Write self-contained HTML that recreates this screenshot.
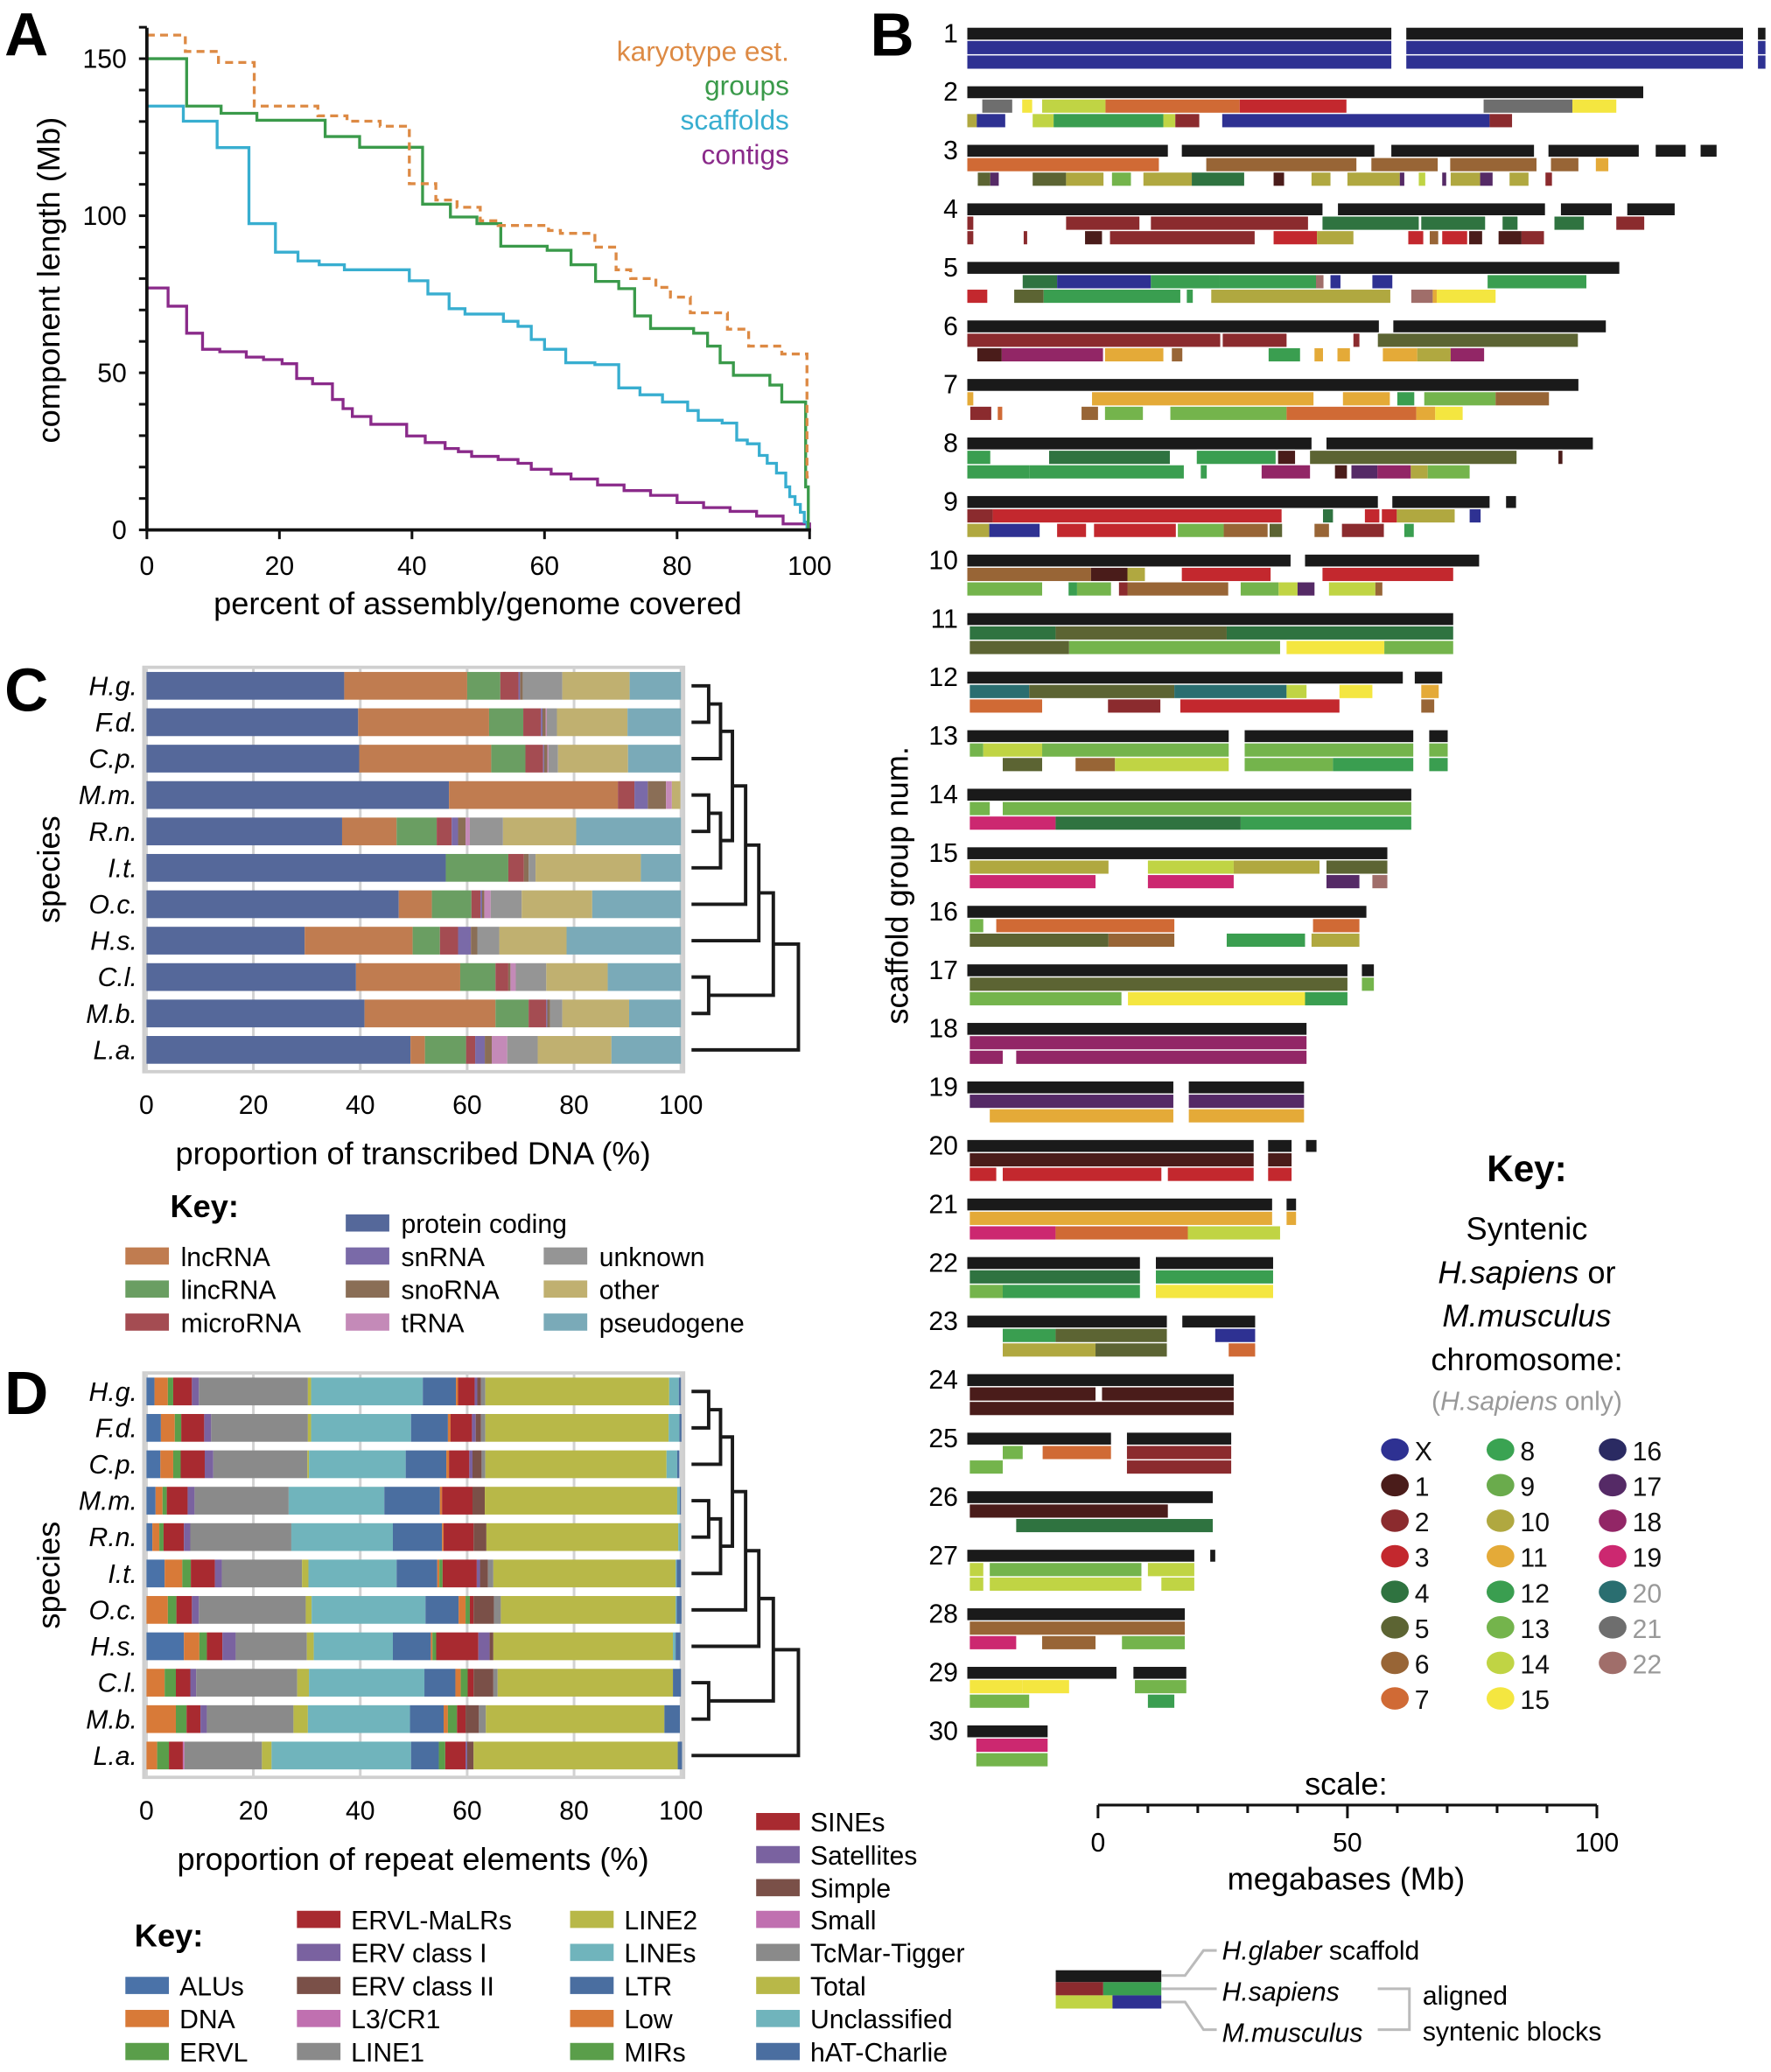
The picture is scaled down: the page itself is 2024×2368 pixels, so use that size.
<!DOCTYPE html>
<html><head><meta charset="utf-8">
<style>
html,body{margin:0;padding:0;background:#fff;}
svg{display:block;font-family:"Liberation Sans",Arial,sans-serif;}
</style></head>
<body>
<svg id="fig" width="2024" height="2368" viewBox="0 0 1342 1568" preserveAspectRatio="none" xmlns="http://www.w3.org/2000/svg">
<g id="gA"></g>
<g id="gB"></g>
<g id="gC"></g>
<g id="gD"></g>
</svg>
<script>
// ===== Panel A data =====
const aKaryX=[0,5.8,10.8,16.2,25.8,30.2,35.2,39.6,43.6,46.8,50.3,53,60.6,62.4,67.6,70.8,73,76.8,79,82,87.6,90.8,95.8,99.6,100];
const aKaryY=[157.5,152.3,148.8,134.9,131.8,130.1,128.5,110.2,105,102.7,98.4,96.9,95.3,94.4,90,82.8,80,77.2,74.1,69.1,63.9,58.5,56,16.8,16.8];
const aGrpX=[0,6,11.2,16.6,26.9,32.1,41.6,45.8,49.8,53.4,60.4,64,67.7,71.2,73.6,76,82.5,84.6,86.5,88.5,94,95.8,99.4,99.8,100];
const aGrpY=[150,134.9,132.6,130.4,125.2,121.8,103.7,99.6,97.5,90.3,89,84.4,79.1,76.8,68.1,64.1,62.6,58.5,53.2,49.2,46.1,40.7,13.7,0,0];
const aScfX=[0,5.5,10.6,15.4,19.4,22.8,26,29.8,39.6,42.4,45.6,48,53.8,56,58,60,63.2,67.6,71.2,74.4,77.8,81.6,83.2,86.8,89,90.6,92.4,93.6,95,96.4,97,97.8,98.6,99.2,99.6,100];
const aScfY=[134.9,130.1,121.7,97.5,88.4,85.6,84.4,82.8,79.3,75.1,70.4,68.7,66.4,64.8,60.6,57.5,53.2,52.6,45.2,43,40.7,38,34.9,34,28.6,27.4,23.7,21.2,18.1,13.7,10.6,8.1,5.6,2.5,0,0];
const aCtgX=[0,3.2,6,8.4,11,15,17.6,20.4,22.6,25,28,29.6,31,33.8,39.2,42,45,47,49,53,56,58,61,64,68,72,76,80,84,88,92,96,100];
const aCtgY=[77,71.2,62.6,57.5,56.7,55,54.2,52.9,48.2,46.5,41.5,38.6,36.1,33.6,29.9,27.8,25.9,24.9,23.4,22.4,21.2,19.3,17.8,16.2,14.3,12.5,11,8.7,7.1,5.9,4.4,1.9,0];
const aXTicks=[0,20,40,60,80,100];
const aYTicks=[0,50,100,150];

// ===== Panel C data =====
const species=["H.g.","F.d.","C.p.","M.m.","R.n.","I.t.","O.c.","H.s.","C.l.","M.b.","L.a."];
const cCats=["protein coding","lncRNA","lincRNA","microRNA","snRNA","snoRNA","tRNA","unknown","other","pseudogene"];
const cColors=["#55689a","#c07c50","#6a9e62","#a44c52","#7a6aa8","#8a6e56","#c48ab8","#959595","#c0b070","#7aaab8"];
const cVals=[
[37.0,23.0,6.2,3.4,0.3,0.5,0,7.4,12.6,9.6],
[39.6,24.5,6.4,3.3,0.3,0.6,0.2,1.9,13.2,10.0],
[39.8,24.7,6.4,3.3,0.2,0.6,0.2,1.8,13.1,9.9],
[56.6,31.6,0,3.1,2.5,3.4,1.1,0,1.6,0],
[36.6,10.2,7.5,2.8,1.2,1.4,0.8,6.2,13.7,19.6],
[56.0,0,11.7,2.9,0,0.9,0,1.3,19.7,7.5],
[47.2,6.2,7.4,1.7,0.3,0.4,1.2,5.8,13.2,16.6],
[29.6,20.2,5.1,3.4,2.4,1.2,0,4.1,12.6,21.4],
[39.2,19.5,6.6,2.4,0,0.4,1.0,5.7,11.5,13.7],
[40.8,24.5,6.2,3.3,0.2,0.5,0,2.3,12.5,9.7],
[49.4,2.7,7.7,1.7,1.8,1.3,2.9,5.7,13.8,13.0]];
const axTicks=[0,20,40,60,80,100];

// ===== Panel D data =====
const dCats=["ALUs","DNA","ERVL","ERVL-MaLRs","ERV class I","ERV class II","L3/CR1","LINE1","LINE2","LINEs","LTR","Low","MIRs","SINEs","Satellites","Simple","Small","TcMar-Tigger","Total","Unclassified","hAT-Charlie"];
const dColors=["#4a72a8","#d87a38","#5a9e4a","#a82a30","#7a62a0","#7a5048","#c070b0","#8a8a8a","#b8b848","#70b4bc","#4a6ea0","#d87a38","#5a9e4a","#a82a30","#7a62a0","#7a5048","#c070b0","#8a8a8a","#b8b848","#70b4bc","#4a6ea0"];
const dVals=[
[1.5,2.5,1,3.5,1.3,0,0,20.4,0.6,20.9,6.2,0.4,0,3.1,0.5,0.7,0,0.8,34.4,1.8,0.4],
[2.7,2.6,1.2,4.3,1.3,0,0,18.1,0.6,18.7,6.9,0.5,0,4,0.7,1,0,0.8,34.3,2,0.4],
[2.6,2.4,1.4,4.5,1.6,0,0,17.6,0.3,18.1,7.6,0.5,0,3.8,0.6,1.7,0,0.7,33.9,2,0.4],
[1.7,1.3,0.8,3.9,1.3,0,0,17.6,0,17.9,10.4,0.4,0,5.7,0,2.3,0,0,36,0.5,0.2],
[1.1,1.3,0.8,3.8,1.2,0,0,18.9,0,19,9.2,0.3,0,5.6,0,2.4,0,0,35.9,0.4,0.1],
[3.4,3.3,1.6,4.5,1.3,0,0,15,1.2,16.5,7.6,0.4,0.6,6.4,0.6,1.5,0,1,34.1,0.2,0.8],
[0,4,1.6,2.9,1.3,0,0,20,1.1,21.3,6.2,1.3,0.8,0.7,0,3.8,0,1.3,32.7,0.2,0.9],
[7,2.9,1.4,2.9,2.5,0,0,13.3,1.3,14.8,7.1,0.3,0.7,7.9,2.1,0.7,0,0,33.6,0.5,0.9],
[0,3.4,2.1,2.7,1.1,0,0,18.9,2.2,21.6,5.8,1,1.3,1.1,0,3.7,0,0.8,32.8,0,1.5],
[0,5.5,2,2.6,1.2,0,0,16.2,2.7,19.1,6.3,0.8,1.7,1.6,0,2.5,0,1.3,33.4,0,2.9],
[0,2,2.2,2.6,0,0,0.3,14.5,1.8,26.1,5.2,0,1.2,3.8,0.3,1.2,0,0,38.2,0,0.8]];

// ===== Panel B data =====
const chromKeys=["X","1","2","3","4","5","6","7","8","9","10","11","12","13","14","15","16","17","18","19","20","21","22"];
const chromColors=["#2e3192","#4a1c1a","#8b2b2e","#c3282e","#2f7340","#5c6433","#986536","#d06a35","#3aa352","#6aab4c","#b0a840","#e4aa38","#3a9e50","#74b44c","#c0d444","#f4e640","#2a2a62","#552a66","#922666","#cc2870","#2a6e70","#6e6e6e","#a06e6a"];
const scaffoldNums=[1,2,3,4,5,6,7,8,9,10,11,12,13,14,15,16,17,18,19,20,21,22,23,24,25,26,27,28,29,30];
const scaffolds=[
"0-85 88-155.5 158.5-160","0-135.5","0-40.2 43-81.6 85-113.6 116.5-134.6 138-144 147-150.2","0-71.2 74.3-115.8 119-129.2 132.3-141.8","0-130.7","0-82.5 85.4-128","0-122.5","0-69 72-125.4","0-82.3 85.2-104.7 108-110","0-64.8 67.7-102.6",
"0-97.4","0-87.3 89.7-95.2","0-52.4 55.6-89.4 92.6-96.3","0-89","0-84.2","0-80","0-76.2 79.1-81.5","0-68","0-41.3 44.4-67.5","0-57.4 60.3-65 67.9-70",
"0-61.1 64-65.9","0-34.6 37.8-61.3","0-40 43.1-57.7","0-53.4","0-28.8 32-52.9","0-49.2","0-45.5 48.7-49.7","0-43.6","0-29.9 33.3-43.9","0-16.1"];
const laneHs=[
"X:0-85 X:88-155.5 X:158.5-160","21:3-9 15:11-13 14:15-27.7 7:27.7-54.6 3:54.6-76 21:103.5-121.3 15:121.3-130.1","7:0-38.4 6:47.9-78 6:81-94.3 6:96.8-114.1 6:117-122.5 11:126-128.5","2:0-1.2 2:19.8-34.5 2:36.8-68.3 4:71.2-90.5 4:91-103.8 4:107.3-110.3 4:117.7-123.6 2:130.1-135.7","4:11.1-18 X:18-36.8 12:36.8-50.6 12:50.6-69.9 22:69.9-71.4 X:72.8-74.8 X:81.2-85.2 12:104.3-124.1","2:0-50.7 2:51.2-64 2:77.4-78.6 5:82.3-122.4","11:0-1.2 11:25-69.4 11:75.3-84.7 12:86.2-89.6 13:91.6-105.9 6:105.9-116.6","12:0-4.6 4:16.4-40.6 12:46-61.8 1:62.3-65.7 5:68.7-110.1 1:118.5-119.3","2:0-5.1 3:5.1-63 4:71.3-73.3 3:79.7-82.6 3:83.1-86.1 10:86.1-97.7 X:100.7-102.9","6:0-24.8 1:24.8-32.1 10:32.1-35.6 3:43-60.8 3:71.2-97.4",
"4:0.5-17.7 5:17.7-52 4:52-97.4","20:0.5-12.4 5:12.4-41.5 20:41.5-64 14:64-68 15:74.6-81.2 11:91-94.5","13:0.5-3.2 14:3.2-15 13:15-52.4 13:55.6-89.4 13:92.6-96.3","13:0.5-4.5 13:7.1-89","10:0.5-28.3 14:36.2-53.4 10:53.4-70.6 5:72-84.2","13:0.5-3.2 7:5.8-41.5 7:69.3-78.6","5:0.5-76.2 13:79.1-81.5","18:0.5-68","17:0.5-41.3 17:44.4-67.5","1:0.5-57.4 1:60.3-65",
"11:0.5-61.1 11:64-65.9","4:0.5-34.6 12:37.8-61.3","12:7.1-17.7 5:17.7-40 X:49.7-57.7","1:0.5-25.7 1:27-53.4","13:7.1-11.1 7:15.1-28.8 2:32-52.9","1:0.5-40.2","14:0.5-3.2 13:4.5-34.9 14:36.2-45.5","6:0.5-43.6","15:0.5-11.1 15:11.1-20.4 13:33.6-43.9","19:1.8-16.1"];
const laneMm=[
"X:0-85 X:88-155.5 X:158.5-160","10:0-1.9 X:1.9-7.6 14:13.1-17.3 12:17.3-39.3 14:39.3-41.7 2:41.7-46.5 X:51.1-104.7 2:104.7-109.2","5:2.1-4.6 17:4.6-6.3 5:13.1-19.8 10:19.8-27.3 13:29-32.8 10:35.3-45 4:45-55.5 1:61.4-63.5 10:69-72.8 10:76.2-86.7 17:86.7-87.6 14:90.5-91.8 17:95.2-96 10:96.9-102.8 17:102.8-105.3 10:108.7-112.5 2:115.9-117.2","2:0-1.2 2:11.3-12 1:23.6-27 2:28.6-57.6 3:61.4-70.1 10:70.1-77.4 3:88.4-91.4 6:92.7-94.4 3:95.2-100.2 1:100.6-103.2 1:106.5-111.1 2:111.1-115.6","3:0-4 5:9.4-15.3 12:15.3-42.7 12:44-45.2 10:48.9-84.8 22:89-93.3 11:93.3-94.1 15:94.1-105.9","1:2-6.9 18:6.9-27.2 11:27.6-39.3 6:41-43.1 12:60.4-66.7 11:69.6-71.3 11:74.2-76.7 11:83.3-90.2 10:90.2-96.9 18:96.9-103.6","2:0.6-4.8 7:6.1-7 6:22.9-26.2 13:27.6-35.2 13:40.7-64 7:64-90 11:90-93.8 15:93.8-99.3","12:0-12.4 12:12.4-43.4 12:46.8-48 18:59-68.7 1:73.7-76.1 17:77-82.2 18:82.2-88.9 10:88.9-92.3 13:92.3-100.7","10:0-4.4 X:4.4-14.5 3:18-23.8 3:25.4-41.8 13:42.2-51.4 6:51.4-60.2 5:60.6-63.1 6:69.6-72.5 2:75.1-83.5 12:87.6-89.5","13:0-15 12:20.3-22 13:22-28.8 2:30.4-32.1 6:32.1-52.3 13:54.8-62.4 14:62.4-66.2 17:66.2-69.6 14:72.5-81.8 6:81.8-83.2",
"5:0.5-20.4 13:20.4-62.7 15:64-83.6 13:83.6-97.4","7:0.5-15 2:28.2-38.7 3:42.7-74.6 6:91-93.6","5:7.1-15 6:21.7-29.6 14:29.6-52.4 13:55.6-73.3 12:73.3-89.4 12:92.6-96.3","19:0.5-17.7 4:17.7-54.8 12:54.8-89","19:0.5-25.7 19:36.2-53.4 17:72-78.6 22:81.2-84.2","5:0.5-28.3 6:28.3-41.5 12:52-67.7 10:69-78.6","13:0.5-30.9 15:32.2-67.7 12:67.7-76.2","18:0.5-7.1 18:9.8-68","11:4.5-41.3 11:44.4-67.5","3:0.5-5.8 3:7.1-38.9 3:40.2-57.4 3:60.3-65",
"19:0.5-17.7 7:17.7-44.2 14:44.2-62.7","13:0.5-7.1 12:7.1-34.6 15:37.8-61.3","10:7.1-25.7 5:25.7-40 7:52.4-57.7","1:0.5-53.4","13:0.5-7.1 2:32-52.9","4:9.8-49.2","14:0.5-3.2 14:4.5-34.9 14:38.9-45.5","19:0.5-9.8 6:15-25.7 13:31-43.6","13:0.5-12.4 12:36.2-41.5","13:1.8-16.1"];

// ===== helpers =====
const NS="http://www.w3.org/2000/svg";
function mk(parent,tag,attrs,text){const e=document.createElementNS(NS,tag);for(const k in attrs)e.setAttribute(k,attrs[k]);if(text!==undefined)e.textContent=text;parent.appendChild(e);return e;}

const gA=document.getElementById('gA'),gB=document.getElementById('gB'),gC=document.getElementById('gC'),gD=document.getElementById('gD');

[["A",20,42,gA],["B",676,42,gB],["C",20,538,gC],["D",20,1070,gD]].forEach(p=>{
 const t=mk(p[3],'text',{x:p[1],y:p[2],'font-size':46,'font-weight':'bold','text-anchor':'middle'},p[0]);
 
 
});

// ===== Panel A =====
const ax0=111.3,ax1=613.5,ay0=401,ay150=44.4;
const axX=v=>ax0+(ax1-ax0)*v/100;
const axY=v=>ay0-(ay0-ay150)*v/150;
function stepPath(xs,ys){let d='M'+axX(xs[0])+','+axY(ys[0]);for(let i=1;i<xs.length;i++){d+=' H'+axX(xs[i])+' V'+axY(ys[i]);}return d;}
[[aCtgX,aCtgY,'#8a2a8a','contigs-line',''],[aScfX,aScfY,'#38aed0','scaffolds-line',''],[aGrpX,aGrpY,'#3a9a4a','groups-line',''],[aKaryX,aKaryY,'#dd8a44','karyotype-line','6,4']].forEach(s=>{
 const p=mk(gA,'path',{d:stepPath(s[0],s[1]),fill:'none',stroke:s[2],'stroke-width':2.2});
 if(s[4])p.setAttribute('stroke-dasharray',s[4]);
 
 
});
let al=mk(gA,'line',{x1:ax0,y1:ay0,x2:ax1+1,y2:ay0,stroke:'#111','stroke-width':2.5});

al=mk(gA,'line',{x1:ax0,y1:ay0+1,x2:ax0,y2:21,stroke:'#111','stroke-width':2.5});

for(let v=0;v<=160;v+=10){mk(gA,'line',{x1:ax0-6,y1:axY(v),x2:ax0,y2:axY(v),stroke:'#111','stroke-width':2});}
aYTicks.forEach(v=>{const t=mk(gA,'text',{x:96,y:axY(v)+7,'font-size':20,'text-anchor':'end'},v);});
aXTicks.forEach(v=>{mk(gA,'line',{x1:axX(v),y1:ay0,x2:axX(v),y2:ay0+7,stroke:'#111','stroke-width':2});const t=mk(gA,'text',{x:axX(v),y:435,'font-size':20,'text-anchor':'middle'},v);});
let tt=mk(gA,'text',{x:362,y:465,'font-size':24,'text-anchor':'middle'},'percent of assembly/genome covered');

tt=mk(gA,'text',{x:0,y:0,'font-size':24,'text-anchor':'middle',transform:'translate(45,212) rotate(-90)'},'component length (Mb)');

[['karyotype est.','#dd8a44',46],['groups','#3a9a4a',72],['scaffolds','#38aed0',98],['contigs','#8a2a8a',124]].forEach(l=>{
 const t=mk(gA,'text',{x:598,y:l[2],'font-size':21,'text-anchor':'end',fill:l[1]},l[0]);
 
});

// ===== Stacked bar panels (C, D) =====
function stacked(g,prefix,top,vals,colors,cats){
 const x0=111,x1=516,bot=top+306;
 const sx=v=>x0+(x1-x0)*v/100;
 const pitch=27.55,bh=21,first=top+14;
 mk(g,'rect',{x:x0-2,y:top,width:x1-x0+4,height:bot-top,fill:'none',stroke:'#cfcfcf','stroke-width':2.5});
 axTicks.forEach(v=>{mk(g,'line',{x1:sx(v),y1:top,x2:sx(v),y2:bot,stroke:'#d2d2d2','stroke-width':2});
  const t=mk(g,'text',{x:sx(v),y:bot+32,'font-size':20,'text-anchor':'middle'},v);});
 vals.forEach((row,i)=>{
  const cy=first+pitch*i;
  let acc=0;
  row.forEach((v,j)=>{
   if(v>0){const r=mk(g,'rect',{x:sx(acc),y:cy-bh/2,width:Math.max(0,sx(acc+v)-sx(acc)),height:bh,fill:colors[j]});
    
    }
   acc+=v;
  });
  const t=mk(g,'text',{x:104,y:cy+7,'font-size':20,'font-style':'italic','text-anchor':'end'},species[i]);
  
 });
 const ly=i=>first+pitch*i;
 const L0=524,X1=537,X2=546,X3=555,X4=565,X5=575,X6=586,X7=605;
 const segs=[];
 function join(ya,yb,x,xa,xb){segs.push(`M${xa},${ya} H${x} V${yb} H${xb}`);return (ya+yb)/2;}
 let n01=join(ly(0),ly(1),X1,L0,L0);
 let n012=join(n01,ly(2),X2,X1,L0);
 let n34=join(ly(3),ly(4),X1,L0,L0);
 let n345=join(n34,ly(5),X2,X1,L0);
 let nA=join(n012,n345,X3,X2,X2);
 let nA6=join(nA,ly(6),X4,X3,L0);
 let nA7=join(nA6,ly(7),X5,X4,L0);
 let n89=join(ly(8),ly(9),X1,L0,L0);
 let nB=join(nA7,n89,X6,X5,X1);
 join(nB,ly(10),X7,X6,L0);
 const d=mk(g,'path',{d:segs.join(' '),fill:'none',stroke:'#1a1a1a','stroke-width':2.6});
 
 const st=mk(g,'text',{x:0,y:0,'font-size':24,'text-anchor':'middle',transform:`translate(45,${(top+bot)/2}) rotate(-90)`},'species');
 
}
stacked(gC,'c',505,cVals,cColors,cCats);
tt=mk(gC,'text',{x:313,y:881,'font-size':24,'text-anchor':'middle'},'proportion of transcribed DNA (%)');

stacked(gD,'d',1039,dVals,dColors,dCats);
tt=mk(gD,'text',{x:313,y:1415,'font-size':24,'text-anchor':'middle'},'proportion of repeat elements (%)');


tt=mk(gC,'text',{x:155,y:921,'font-size':24,'font-weight':'bold','text-anchor':'middle'},'Key:');

const cLeg=[[1,95,951],[2,95,976],[3,95,1001],[0,262,926],[4,262,951],[5,262,976],[6,262,1001],[7,412,951],[8,412,976],[9,412,1001]];
cLeg.forEach(l=>{
 const r=mk(gC,'rect',{x:l[1],y:l[2]-7,width:33,height:13,fill:cColors[l[0]]});
 
 const t=mk(gC,'text',{x:l[1]+42,y:l[2]+7,'font-size':20},cCats[l[0]]);
 
});
tt=mk(gD,'text',{x:128,y:1473,'font-size':24,'font-weight':'bold','text-anchor':'middle'},'Key:');

const dLegPos=[[95,1503],[95,1528],[95,1553],[225,1453],[225,1478],[225,1503],[225,1528],[225,1553],[432,1453],[432,1478],[432,1503],[432,1528],[432,1553],[573,1379],[573,1404],[573,1429],[573,1453],[573,1478],[573,1503],[573,1528],[573,1553]];
dLegPos.forEach((p,i)=>{
 const r=mk(gD,'rect',{x:p[0],y:p[1]-7,width:33,height:13,fill:dColors[i]});
 
 const t=mk(gD,'text',{x:p[0]+41,y:p[1]+7,'font-size':20},dCats[i]);
 
});

// ===== Panel B =====
const bx0=733,mbPx=3.78;
const bX=v=>bx0+v*mbPx;
const colorOf=k=>chromColors[chromKeys.indexOf(k)];
scaffoldNums.forEach((n,i)=>{
 const y=21+44.3*i;
 const t=mk(gB,'text',{x:726,y:y+11,'font-size':20,'text-anchor':'end'},n);
 
 scaffolds[i].split(' ').forEach(s=>{const [a,b]=s.split('-').map(Number);
  const r=mk(gB,'rect',{x:bX(a),y:y,width:(b-a)*mbPx,height:9,fill:'#1a1a1a'});
  });
 [[laneHs[i],y+10,'hsapiens-block'],[laneMm[i],y+21,'mmusculus-block']].forEach(L=>{
  L[0].split(' ').forEach(s=>{const [k,rng]=s.split(':');const [a,b]=rng.split('-').map(Number);
   const r=mk(gB,'rect',{x:bX(a),y:L[1],width:(b-a)*mbPx,height:10,fill:colorOf(k)});
   });
 });
});
tt=mk(gB,'text',{x:0,y:0,'font-size':24,'text-anchor':'middle',transform:'translate(688,670) rotate(-90)'},'scaffold group num.');

tt=mk(gB,'text',{x:1157,y:894,'font-size':28,'font-weight':'bold','text-anchor':'middle'},'Key:');

tt=mk(gB,'text',{x:1157,y:938,'font-size':24,'text-anchor':'middle'},'Syntenic');

tt=mk(gB,'text',{x:1157,y:971,'font-size':24,'text-anchor':'middle'});
tt.innerHTML='<tspan font-style="italic">H.sapiens</tspan> or';

tt=mk(gB,'text',{x:1157,y:1004,'font-size':24,'text-anchor':'middle','font-style':'italic'},'M.musculus');

tt=mk(gB,'text',{x:1157,y:1037,'font-size':24,'text-anchor':'middle'},'chromosome:');

tt=mk(gB,'text',{x:1157,y:1067,'font-size':20,'text-anchor':'middle',fill:'#999'});
tt.innerHTML='(<tspan font-style="italic">H.sapiens</tspan> only)';

chromKeys.forEach((k,i)=>{
 const col=i<8?0:(i<16?1:2),row=i<8?i:(i<16?i-8:i-16);
 const cx=[1057,1137,1222][col],cy=1097+26.9*row;
 const c=mk(gB,'ellipse',{cx:cx,cy:cy,rx:10.5,ry:8.5,fill:chromColors[i]});
 
 const t=mk(gB,'text',{x:cx+15,y:cy+8,'font-size':20,fill:(i>=20?'#999':'#111')},k);
 
});
tt=mk(gB,'text',{x:1020,y:1358,'font-size':24,'text-anchor':'middle'},'scale:');

mk(gB,'line',{x1:bX(26.2),y1:1366,x2:bX(26.2)+100*mbPx,y2:1366,stroke:'#111','stroke-width':2});
for(let v=0;v<=100;v+=10){const x=bX(26.2)+v*mbPx;mk(gB,'line',{x1:x,y1:1366,x2:x,y2:(v%50===0?1376:1372),stroke:'#111','stroke-width':2});}
[0,50,100].forEach(v=>{const t=mk(gB,'text',{x:bX(26.2)+v*mbPx,y:1401,'font-size':20,'text-anchor':'middle'},v);});
tt=mk(gB,'text',{x:1020,y:1430,'font-size':24,'text-anchor':'middle'},'megabases (Mb)');

mk(gB,'rect',{x:800,y:1491,width:80,height:9,fill:'#1a1a1a'});
mk(gB,'rect',{x:800,y:1500,width:36,height:10,fill:'#8b2b2e'});
mk(gB,'rect',{x:836,y:1500,width:44,height:10,fill:'#3a9e50'});
mk(gB,'rect',{x:800,y:1510,width:43,height:10,fill:'#c0d444'});
mk(gB,'rect',{x:843,y:1510,width:37,height:10,fill:'#2e3192'});
mk(gB,'path',{d:'M880,1495 L898,1495 L912,1476 L922,1476 M880,1505 L922,1505 M880,1515 L898,1515 L912,1536 L922,1536 M1044,1505 L1068,1505 L1068,1536 L1044,1536',fill:'none',stroke:'#bbb','stroke-width':2});
[['H.glaber',' scaffold',1483],['H.sapiens','',1514],['M.musculus','',1545]].forEach(l=>{
 const t=mk(gB,'text',{x:926,y:l[2],'font-size':20});
 t.innerHTML='<tspan font-style="italic">'+l[0]+'</tspan>'+l[1];
 
});
tt=mk(gB,'text',{x:1078,y:1517,'font-size':20},'aligned');

tt=mk(gB,'text',{x:1078,y:1544,'font-size':20},'syntenic blocks');

</script>
</body></html>
